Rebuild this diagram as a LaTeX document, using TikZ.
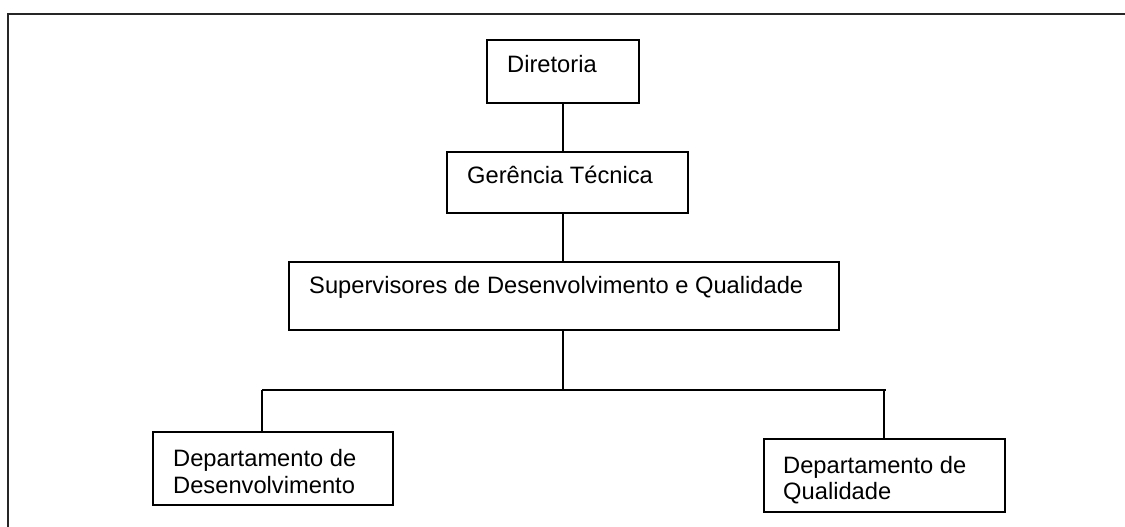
\documentclass[tikz,border=0pt]{standalone}
\usepackage{fontspec}
\setmainfont{Liberation Sans}
\begin{document}
\begin{tikzpicture}[x=1pt,y=-1pt,
  box/.style={draw=black,line width=1.8pt,rectangle,inner sep=0pt,anchor=north west},
  lbl/.style={inner sep=0pt,font=\fontsize{23.7}{26.5}\selectfont},
  conn/.style={draw=black,line width=1.5pt},
  frame/.style={draw=black!85,line width=2.2pt}]
\useasboundingbox (0,0) rectangle (1125,527);
% outer frame (left and top edges visible)
\coordinate (fbl) at (8,527);
\coordinate (ftl) at (8,14);
\coordinate (ftr) at (1125,14);
\draw[frame] (fbl) -- (ftl) -- (ftr);
% boxes
\node[box,minimum width=152pt,minimum height=63pt] (dir) at (486,39) {};
\node[box,minimum width=241pt,minimum height=61pt] (ger) at (446,151) {};
\node[box,minimum width=550pt,minimum height=68pt] (sup) at (288,261) {};
\node[box,minimum width=240pt,minimum height=73pt] (dd) at (152,431) {};
\node[box,minimum width=241pt,minimum height=73pt] (dq) at (763,438) {};
% texts
\node[lbl,anchor=base west] (tdir) at (507,73) {Diretoria};
\node[lbl,anchor=base west] (tger) at (467,183) {Gerência Técnica};
\node[lbl,anchor=base west] (tsup) at (309,293) {Supervisores de Desenvolvimento e Qualidade};
\node[lbl,anchor=north west,align=left] (tdd) at (173,449.5) {Departamento de\\Desenvolvimento};
\node[lbl,anchor=north west,align=left] (tdq) at (783,456) {Departamento de\\Qualidade};
% connectors
\coordinate (j) at (563,390);
\coordinate (jl) at (262,390);
\coordinate (jr) at (884,390);
\draw[conn] (dir.south -| j) -- (ger.north -| j);
\draw[conn] (ger.south -| j) -- (sup.north -| j);
\draw[conn] (sup.south -| j) -- (j);
\draw[conn] (jl) -- ([xshift=2pt]jr);
\draw[conn] (jl) -- (jl |- dd.north);
\draw[conn] (jr) -- (jr |- dq.north);
\end{tikzpicture}
\end{document}
